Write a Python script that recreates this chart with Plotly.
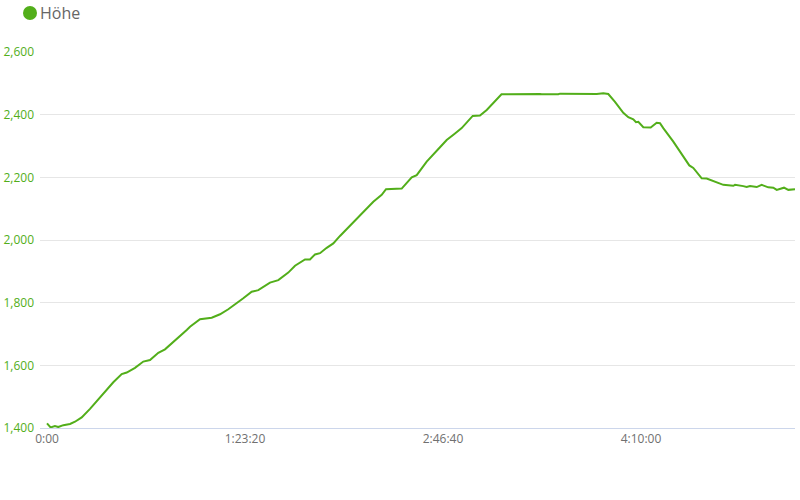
import plotly.graph_objects as go

# elapsed time in seconds
time_s = [0, 90, 200, 285, 412, 581, 707, 876, 1086, 1295, 1465, 1674, 1886, 2013, 2222,
          2432, 2601, 2811, 2980, 3275, 3528, 3611, 3864, 4159, 4369, 4578, 4790, 4957,
          5169, 5336, 5631, 5841, 6093, 6263, 6515, 6641, 6768, 6894, 7063, 7230, 7399,
          7652, 7987, 8240, 8452, 8561, 8957, 9210, 9336, 9588, 9924, 10093, 10303, 10472,
          10750, 10934, 11104, 11313, 11477, 12449, 12492, 12912, 12955, 13881, 14048,
          14174, 14343, 14553, 14679, 14806, 14874, 14932, 15058, 15245, 15311, 15396,
          15480, 15563, 15816, 16068, 16220, 16321, 16533, 16659, 16826, 17078, 17331,
          17374, 17583, 17669, 17753, 17922, 18048, 18214, 18341, 18427, 18611, 18720, 18889]
# elevation in metres
elevation = [1415, 1402, 1406, 1403, 1409, 1413, 1420, 1434, 1461, 1492, 1514, 1546, 1572,
             1577, 1592, 1612, 1617, 1640, 1651, 1683, 1713, 1723, 1747, 1752, 1763, 1779,
             1798, 1814, 1835, 1840, 1864, 1872, 1896, 1918, 1938, 1938, 1954, 1958, 1975,
             1989, 2013, 2045, 2090, 2122, 2144, 2162, 2164, 2200, 2207, 2250, 2296, 2319,
             2340, 2357, 2396, 2397, 2415, 2445, 2465, 2466, 2465, 2465, 2467, 2466, 2468,
             2466, 2441, 2406, 2392, 2385, 2376, 2377, 2360, 2359, 2367, 2374, 2373, 2357,
             2314, 2268, 2238, 2230, 2197, 2196, 2188, 2176, 2173, 2176, 2172, 2169, 2172,
             2169, 2176, 2168, 2167, 2160, 2167, 2160, 2162]

x_tickvals = [0, 5000, 10000, 15000]
x_ticktext = ["0:00", "1:23:20", "2:46:40", "4:10:00"]
y_tickvals = [1400, 1600, 1800, 2000, 2200, 2400, 2600]
series_name = "Höhe"

GREEN = "#52ae1a"

fig = go.Figure()
fig.add_trace(go.Scatter(x=time_s, y=elevation, mode="lines", name=series_name,
                         line=dict(color=GREEN, width=2), showlegend=False))

fig.update_layout(
    width=800, height=500,
    margin=dict(l=40, r=5, t=52, b=72),
    plot_bgcolor="white", paper_bgcolor="white",
    font=dict(family="Open Sans, sans-serif"),
    xaxis=dict(range=[-177, 18889], tickvals=x_tickvals, ticktext=x_ticktext,
               showgrid=False, zeroline=False, showline=True, linecolor="#ccd6eb",
               linewidth=1, ticks="", automargin=False,
               tickfont=dict(size=12, color="#707070")),
    yaxis=dict(range=[1400, 2600], tickvals=y_tickvals, tickformat=",",
               showgrid=True, gridcolor="#e6e6e6", gridwidth=1, zeroline=False,
               showline=False, ticks="", ticklabelstandoff=5, automargin=False,
               tickfont=dict(size=12, color=GREEN)),
    shapes=[dict(type="circle", xref="paper", yref="paper",
                 xsizemode="pixel", ysizemode="pixel",
                 xanchor=(30 - 40) / 755, yanchor=(428 - 13) / 376,
                 x0=-7, x1=7, y0=-7, y1=7,
                 fillcolor=GREEN, line=dict(width=0))],
    annotations=[dict(text=series_name, xref="paper", yref="paper",
                      x=(38 - 40) / 755, y=(428 - 13) / 376,
                      xanchor="left", yanchor="middle", showarrow=False,
                      font=dict(size=16, color="#666666"))],
)

fig.write_html("out.html", config={"displayModeBar": False},
               post_script="document.body.style.margin='0';")
